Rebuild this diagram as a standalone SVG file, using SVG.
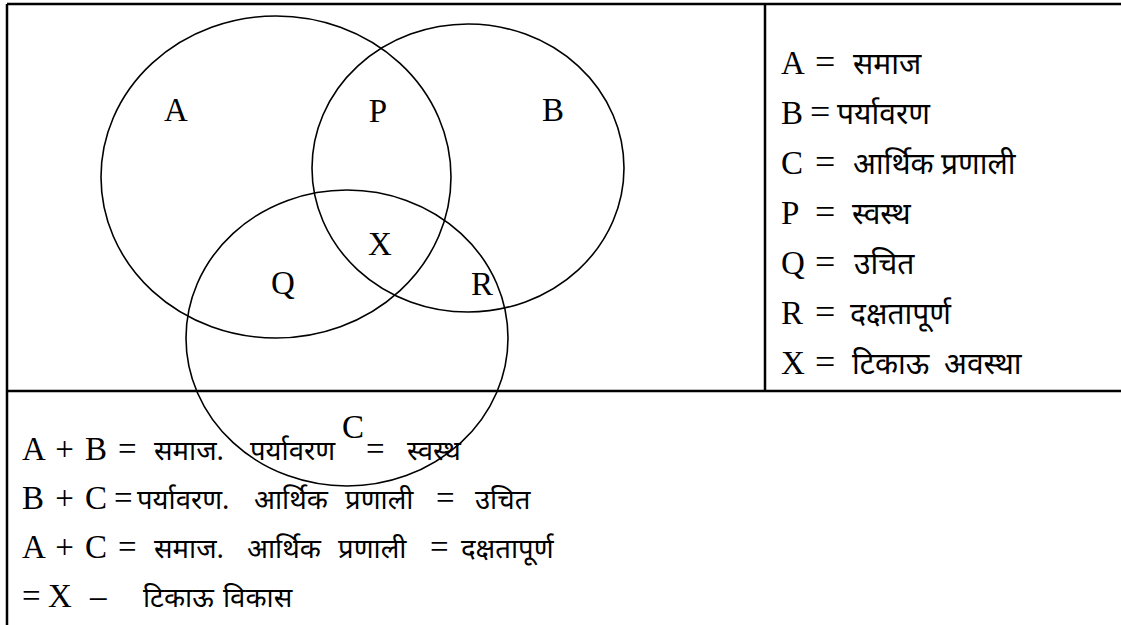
<svg xmlns="http://www.w3.org/2000/svg" width="1121" height="625" viewBox="0 0 1121 625">
<style>
.frame{stroke:#000;stroke-width:2.5;fill:none}
.circ{stroke:#000;stroke-width:1.6;fill:none}
.lbl{font-family:"Liberation Serif","Times New Roman",serif;font-size:33px;fill:#000}
.t{font-family:"Liberation Serif","Times New Roman",serif;font-size:33px;fill:#000;word-spacing:3px}
.eq{font-size:36px}
.d{font-family:"Noto Sans Devanagari","Lohit Devanagari","Mangal","Noto Sans",sans-serif;font-size:30px;word-spacing:0}
.db{font-family:"Noto Sans Devanagari","Lohit Devanagari","Mangal","Noto Sans",sans-serif;font-size:27.5px;word-spacing:0}
</style>
<rect width="1121" height="625" fill="#fff"/>
<g id="frame">
<line class="frame" x1="7" y1="4" x2="1121" y2="4"/>
<line class="frame" x1="7" y1="4" x2="7" y2="625"/>
<line class="frame" x1="765" y1="4" x2="765" y2="391"/>
<line class="frame" x1="7" y1="391" x2="1121" y2="391"/>
</g>
<g id="circle-A"><ellipse class="circ" cx="276" cy="177" rx="175" ry="161"/><text class="lbl" x="176" y="121" text-anchor="middle">A</text></g>
<g id="circle-B"><ellipse class="circ" cx="468" cy="168" rx="156" ry="144"/><text class="lbl" x="553" y="121" text-anchor="middle">B</text></g>
<g id="circle-C"><ellipse class="circ" cx="347" cy="338" rx="161" ry="148"/><text class="lbl" x="353" y="438" text-anchor="middle">C</text></g>
<g id="region-P"><text class="lbl" x="378" y="122" text-anchor="middle">P</text></g>
<g id="region-X"><text class="lbl" x="380" y="255" text-anchor="middle">X</text></g>
<g id="region-Q"><text class="lbl" x="283" y="294" text-anchor="middle">Q</text></g>
<g id="region-R"><text class="lbl" x="482" y="295" text-anchor="middle">R</text></g>
<g id="legend">
<text class="t" y="74"><tspan x="781">A</tspan><tspan class="eq" x="815">=</tspan><tspan class="d" x="853">समाज</tspan></text>
<text class="t" y="124"><tspan x="781">B</tspan><tspan class="eq" x="810">=</tspan><tspan class="d" x="837">पर्यावरण</tspan></text>
<text class="t" y="174"><tspan x="781">C</tspan><tspan class="eq" x="815">=</tspan><tspan class="d" x="853">आर्थिक</tspan><tspan class="d" x="941">प्रणाली</tspan></text>
<text class="t" y="224"><tspan x="781">P</tspan><tspan class="eq" x="815">=</tspan><tspan class="d" x="852">स्वस्थ</tspan></text>
<text class="t" y="274"><tspan x="781">Q</tspan><tspan class="eq" x="815">=</tspan><tspan class="d" x="854">उचित</tspan></text>
<text class="t" y="324"><tspan x="781">R</tspan><tspan class="eq" x="815">=</tspan><tspan class="d" x="850">दक्षतापूर्ण</tspan></text>
<text class="t" y="374"><tspan x="781">X</tspan><tspan class="eq" x="815">=</tspan><tspan class="d" x="852">टिकाऊ</tspan><tspan class="d" x="944">अवस्था</tspan></text>
</g>
<g id="equations">
<text class="t" y="460"><tspan x="22">A + B</tspan><tspan x="118">=</tspan><tspan class="db" x="154">समाज.</tspan><tspan class="db" x="250">पर्यावरण</tspan><tspan x="366">=</tspan><tspan class="db" x="407">स्वस्थ</tspan></text>
<text class="t" y="509"><tspan x="22">B + C</tspan><tspan x="114">=</tspan><tspan class="db" x="137">पर्यावरण.</tspan><tspan class="db" x="254">आर्थिक</tspan><tspan class="db" x="345">प्रणाली</tspan><tspan x="436">=</tspan><tspan class="db" x="475">उचित</tspan></text>
<text class="t" y="558"><tspan x="22">A + C</tspan><tspan x="118">=</tspan><tspan class="db" x="154">समाज.</tspan><tspan class="db" x="247">आर्थिक</tspan><tspan class="db" x="338">प्रणाली</tspan><tspan x="430">=</tspan><tspan class="db" x="461">दक्षतापूर्ण</tspan></text>
<text class="t" y="607"><tspan x="22">=</tspan><tspan x="48">X</tspan><tspan x="90">–</tspan><tspan class="db" x="143">टिकाऊ</tspan><tspan class="db" x="223">विकास</tspan></text>
</g>
</svg>
